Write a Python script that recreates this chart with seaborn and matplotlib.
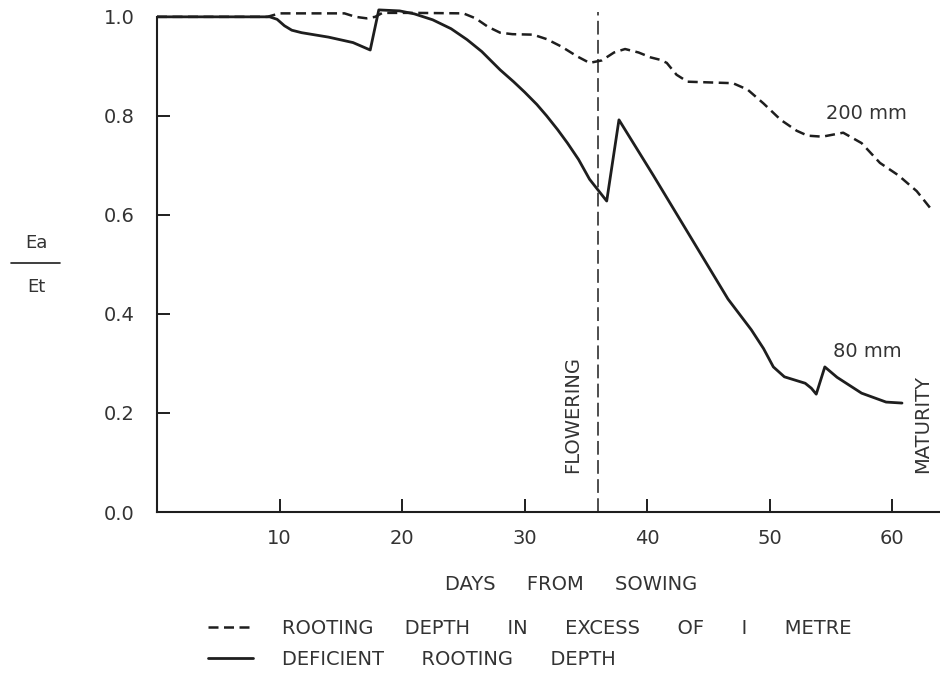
import matplotlib
matplotlib.use("Agg")
import matplotlib.pyplot as plt
import seaborn as sns
from matplotlib.lines import Line2D

# Ea/Et ratio
days_deep = [0, 9, 10, 15.3, 16.2, 17.1, 17.8, 18.4, 21, 25, 26, 27, 28, 29,
             30.7, 31.8, 33, 34.3, 35.3, 36.3, 37.3, 38.2, 39.3, 40.3, 41.1,
             41.6, 42.4, 43.3, 47.0, 48.2, 49.5, 50.9, 52.2, 53.1, 54.3, 56.0,
             57.5, 59.0, 60.5, 62.0, 63.1]
ratio_deep = [1.0, 1.0, 1.007, 1.007, 1.0, 0.997, 1.0, 1.008, 1.008, 1.007,
              0.997, 0.98, 0.968, 0.965, 0.964, 0.955, 0.94, 0.92, 0.907,
              0.912, 0.928, 0.935, 0.928, 0.918, 0.913, 0.907, 0.883, 0.869,
              0.866, 0.853, 0.825, 0.792, 0.77, 0.76, 0.758, 0.766, 0.745,
              0.705, 0.68, 0.648, 0.614]

days_short = [0, 9.2, 9.8, 10.4, 11, 11.8, 14, 16, 17.4, 18.1, 19.8, 21, 22.5,
              24, 25.3, 26.5, 28, 29.1, 30, 31, 31.8, 32.7, 33.5, 34.4, 35.3,
              36.7, 37.7, 40.5, 43.6, 46.6, 48.5, 49.5, 50.3, 51.2, 52.9,
              53.4, 53.8, 54.5, 55.5, 57.5, 59.5, 60.8]
ratio_short = [1.0, 1.0, 0.995, 0.982, 0.973, 0.968, 0.959, 0.948, 0.933,
               1.014, 1.012, 1.006, 0.994, 0.976, 0.954, 0.93, 0.893, 0.869,
               0.848, 0.823, 0.80, 0.772, 0.745, 0.712, 0.672, 0.628, 0.792,
               0.68, 0.553, 0.43, 0.368, 0.33, 0.293, 0.273, 0.26, 0.25,
               0.238, 0.293, 0.272, 0.24, 0.222, 0.22]

flowering_day = 36
x_ticks = [10, 20, 30, 40, 50, 60]
y_ticks = [0.0, 0.2, 0.4, 0.6, 0.8, 1.0]

label_deep = "ROOTING     DEPTH      IN      EXCESS      OF      I      METRE"
label_short = "DEFICIENT      ROOTING      DEPTH"

sns.set_theme(style="ticks")
plt.rcParams["font.family"] = ["DejaVu Sans"]
ink = "#1e1e1e"

fig = plt.figure(figsize=(9.4, 6.99), dpi=100)
ax = fig.add_axes([157 / 940, 1 - 512 / 699, 783 / 940, 512 / 699])

sns.lineplot(x=days_deep, y=ratio_deep, ax=ax, color=ink, linewidth=1.8,
             linestyle=(0, (4, 2.2)), label=label_deep)
sns.lineplot(x=days_short, y=ratio_short, ax=ax, color=ink, linewidth=2.0,
             label=label_short)

ax.axvline(flowering_day, ymin=0, ymax=1.01 / 1.034, color=ink, lw=1.1,
           linestyle=(0, (9, 3.5)))

ax.set_xlim(0, 63.9)
ax.set_ylim(0, 1.034)
ax.set_xticks(x_ticks)
ax.set_yticks(y_ticks)
ax.set_xticklabels([str(t) for t in x_ticks])
ax.set_yticklabels([f"{t:.1f}" for t in y_ticks])
ax.tick_params(direction="in", length=9.5, width=1.4, colors=ink,
               labelsize=14, labelcolor="#333333")
ax.tick_params(axis="y", pad=16)
ax.tick_params(axis="x", pad=12)

for side in ["top", "right"]:
    ax.spines[side].set_visible(False)
for side in ["left", "bottom"]:
    ax.spines[side].set_linewidth(1.5)
    ax.spines[side].set_color(ink)
ax.spines["left"].set_bounds(0, 1.0)

ax.set_xlabel("DAYS     FROM     SOWING", fontsize=14, color="#333333")
ax.xaxis.set_label_coords((571 - 157) / 783, -(585 - 512) / 512)
ax.xaxis.label.set_va("center")
ax.set_ylabel("")

ax.text(57.9, 0.804, "200 mm", fontsize=14, color="#333333",
        ha="center", va="center")
ax.text(58.0, 0.325, "80 mm", fontsize=14, color="#333333",
        ha="center", va="center")
ax.text(33.9, 0.079, "FLOWERING", fontsize=14, color="#333333",
        rotation=90, ha="center", va="bottom")
ax.text(62.5, 0.079, "MATURITY", fontsize=14, color="#333333",
        rotation=90, ha="center", va="bottom")

# Ea / Et fraction as y label
fig.text(36 / 940, 1 - 243 / 699, "Ea", fontsize=13, color="#333333",
         ha="center", va="center")
fig.text(36 / 940, 1 - 287 / 699, "Et", fontsize=13, color="#333333",
         ha="center", va="center")
fig.add_artist(Line2D([11 / 940, 60 / 940], [1 - 263 / 699, 1 - 263 / 699],
                      color=ink, lw=1.2))

handles, labels = ax.get_legend_handles_labels()
ax.get_legend().remove()
fig.legend(handles, labels, loc="center left",
           bbox_to_anchor=(208 / 940, 1 - 644 / 699), frameon=False,
           fontsize=14, handlelength=2.3, handletextpad=1.5,
           labelspacing=0.6, borderpad=0, borderaxespad=0,
           labelcolor="#333333")

fig.savefig("out.png", dpi=100, facecolor="white")
